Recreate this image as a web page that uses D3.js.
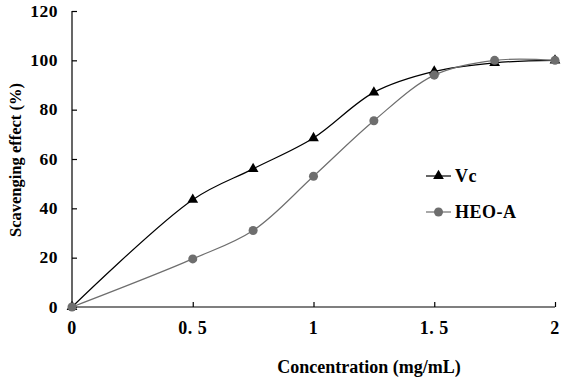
<!DOCTYPE html>
<html>
<head>
<meta charset="utf-8">
<script src="https://cdn.jsdelivr.net/npm/d3@7"></script>
<style>
  body { margin: 0; background: #fff; }
  text { font-family: "Liberation Serif", "Times New Roman", serif; font-weight: bold; }
</style>
</head>
<body>
<div id="chart"></div>
<script>
// concentration (mg/mL) vs scavenging effect (%)
const concentrations = [0, 0.5, 0.75, 1, 1.25, 1.5, 1.75, 2];
const vcValues = [0, 43.5, 56, 68.5, 87, 95.5, 99, 100];
const heoValues = [0, 19.5, 31, 53, 75.5, 94, 100, 100];
const xTicks = [0, 0.5, 1, 1.5, 2];
const xTickLabels = ["0", "0. 5", "1", "1. 5", "2"];
const yTicks = [0, 20, 40, 60, 80, 100, 120];

const width = 569, height = 383;
const margin = { left: 72, right: 14, top: 11, bottom: 76 };

const svg = d3.select("#chart").append("svg")
  .attr("width", width)
  .attr("height", height);

const x = d3.scaleLinear().domain([0, 2]).range([margin.left, width - margin.right]);
const y = d3.scaleLinear().domain([0, 120]).range([height - margin.bottom, margin.top]);

// axes, ticks pointing inward
svg.append("g")
  .attr("transform", `translate(0,${y(0)})`)
  .call(d3.axisTop(x).tickValues(xTicks).tickSize(5).tickFormat(""))
  .call(g => g.select(".domain").attr("d", `M${x(0)},0H${x(2)}`))
  .call(g => g.selectAll("path,line").attr("stroke", "#000").attr("stroke-width", 1.2));

svg.append("g")
  .attr("transform", `translate(${x(0)},0)`)
  .call(d3.axisRight(y).tickValues(yTicks).tickSize(5).tickFormat(""))
  .call(g => g.select(".domain").attr("d", `M0,${y(0)}V${y(120)}`))
  .call(g => g.selectAll("path,line").attr("stroke", "#000").attr("stroke-width", 1.2));

svg.append("g").selectAll("text")
  .data(xTicks)
  .join("text")
  .attr("x", d => x(d))
  .attr("y", 334)
  .attr("text-anchor", "middle")
  .attr("font-size", 18)
  .attr("letter-spacing", 0.5)
  .text((d, i) => xTickLabels[i]);

svg.append("g").selectAll("text")
  .data(yTicks)
  .join("text")
  .attr("x", x(0) - 14)
  .attr("y", d => y(d) + 5.5)
  .attr("text-anchor", "end")
  .attr("font-size", 17.5)
  .attr("letter-spacing", 0.5)
  .text(d => d);

svg.append("text")
  .attr("x", 369)
  .attr("y", 373)
  .attr("text-anchor", "middle")
  .attr("font-size", 18)
  .text("Concentration (mg/mL)");

svg.append("text")
  .attr("transform", `translate(21,160) rotate(-90)`)
  .attr("text-anchor", "middle")
  .attr("font-size", 16.5)
  .text("Scavenging effect (%)");

const series = [
  { name: "Vc", values: vcValues, color: "#000", shape: d3.symbolTriangle },
  { name: "HEO-A", values: heoValues, color: "#6e6e6e", shape: d3.symbolCircle }
];

const line = d3.line()
  .x(d => x(d[0]))
  .y(d => y(d[1]))
  .curve(d3.curveCatmullRom.alpha(0.5));

series.forEach(s => {
  const pts = concentrations.map((c, i) => [c, s.values[i]]);
  svg.append("path")
    .datum(pts)
    .attr("fill", "none")
    .attr("stroke", s.color)
    .attr("stroke-width", 1.2)
    .attr("d", line);
  svg.append("g").selectAll("path")
    .data(pts)
    .join("path")
    .attr("transform", d => `translate(${x(d[0])},${y(d[1])})`)
    .attr("d", d3.symbol().type(s.shape).size(s.shape === d3.symbolCircle ? 64 : 50))
    .attr("fill", s.color);
});

// legend
const legend = svg.append("g").attr("transform", "translate(426,176)");
series.forEach((s, i) => {
  const g = legend.append("g").attr("transform", `translate(0,${i * 36})`);
  g.append("line").attr("x1", 0).attr("x2", 25)
    .attr("stroke", s.color).attr("stroke-width", 1.2);
  g.append("path").attr("transform", "translate(12.5,0)")
    .attr("d", d3.symbol().type(s.shape).size(s.shape === d3.symbolCircle ? 64 : 50))
    .attr("fill", s.color);
  g.append("text").attr("x", 29).attr("y", 6)
    .attr("font-size", 18).attr("letter-spacing", 0.5).text(s.name);
});
</script>
</body>
</html>
